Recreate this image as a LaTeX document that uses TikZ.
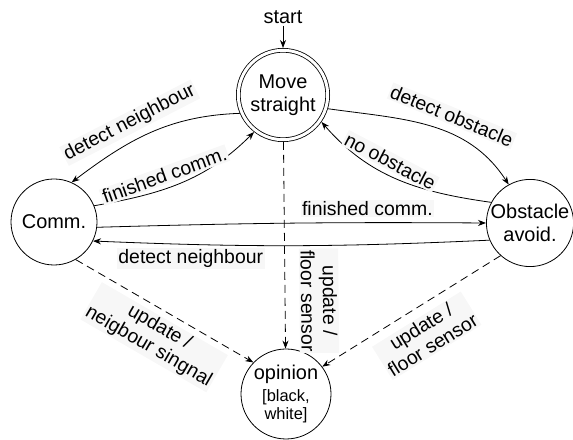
\documentclass[tikz,border=0pt]{standalone}
\usepackage{fontspec}
\setmainfont{Liberation Sans}
\usetikzlibrary{arrows.meta, positioning}
\newcommand{\statefont}{\fontsize{20}{23}\selectfont}
\newcommand{\condfont}{\fontsize{19.5}{22}\selectfont}
\newcommand{\smallfont}{\fontsize{16.5}{19}\selectfont}
\tikzset{
  state/.style={circle,draw,line width=0.8bp,minimum size=86bp,inner sep=0pt,align=center,font=\statefont},
  state_start/.style={state,double,double distance=3bp,minimum size=89.4bp,outer sep=2.3bp},
  trans/.style={line width=0.8bp,-{Stealth[length=8bp,width=6bp]}},
  update/.style={trans,dash pattern=on 8bp off 5bp},
  cond/.style={fill=black!3,inner sep=1.5bp,font=\condfont,align=center},
}

\begin{document}
\begin{tikzpicture}[x=1bp,y=1bp]
  \useasboundingbox (0,0) rectangle (573,440);
  \node[state_start] (move) at (283,345) {Move\\straight};
  \node[state] (comm) at (54,218) {Comm.};
  \node[state] (obst) at (530,217) {Obstacle\\avoid.};
  \node[state,minimum size=90bp] (opin) at (286,46) {opinion\\[-1bp]{\smallfont [black,}\\[-4bp]{\smallfont white]}};
  \node[font=\statefont,inner sep=2bp,above=22bp of move] (start) {start};
  \draw[trans] (start) -- (move);
  % solid transitions
  \draw[trans] (move.203) to[out=182,in=37] node[cond,sloped,above=7bp,pos=0.58] {detect neighbour} (comm.66);
  \draw[trans] (comm.22) to[out=10,in=225] node[cond,sloped,above=4bp,pos=0.42] {finished comm.} (move.232);
  \draw[trans] (move.343) to[out=-8,in=123] node[cond,sloped,above=8bp,pos=0.58] {detect obstacle} (obst.119);
  \draw[trans] (obst.152) to[out=172,in=-49] node[cond,sloped,above=4bp,pos=0.58] {no obstacle} (move.325);
  \draw[trans] (comm.-7) to[bend left=1] node[cond,above=5bp,pos=0.71] {finished comm.} (obst.180);
  \draw[trans] (obst.203) to[bend left=2.5] node[cond,below=3bp,pos=0.77] {detect neighbour} (comm.-26);
  % opinion updates
  \draw[update] (move) -- node[cond,sloped,above=14bp,pos=0.77] {update /\\floor sensor} (opin);
  \draw[update] (comm.-60) -- node[cond,sloped,below=6bp,pos=0.52] {update /\\neigbour singnal} (opin.136);
  \draw[update] (obst.228) -- node[cond,sloped,below=9bp,pos=0.5] {update /\\floor sensor} (opin.37);
\end{tikzpicture}
\end{document}
